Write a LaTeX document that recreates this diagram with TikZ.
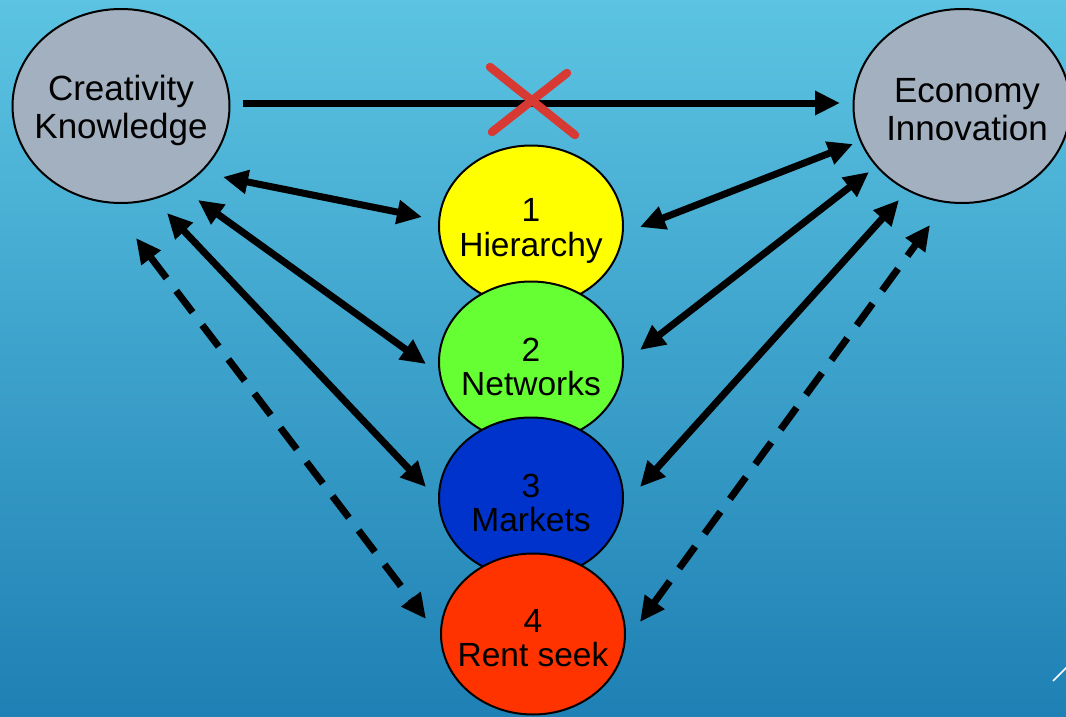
\documentclass[tikz,border=0pt]{standalone}
\usepackage{fontspec}
\setmainfont{Liberation Sans}
\usetikzlibrary{shapes.geometric,arrows.meta}
\definecolor{bgtop}{RGB}{92,196,226}
\definecolor{bgbot}{RGB}{30,128,180}
\definecolor{ovalgrey}{RGB}{163,176,191}
\definecolor{hyellow}{RGB}{255,255,0}
\definecolor{ngreen}{RGB}{102,255,51}
\definecolor{mblue}{RGB}{0,51,204}
\definecolor{rred}{RGB}{255,51,0}
\definecolor{xred}{RGB}{215,58,51}
\begin{document}
\begin{tikzpicture}[x=1pt,y=-1pt,
  bigoval/.style={ellipse,draw=black,line width=2pt,fill=ovalgrey,minimum width=217pt,minimum height=194pt,inner sep=0pt},
  bigtext/.style={align=center,inner sep=0pt,font=\fontsize{35}{38}\selectfont},
  mode/.style={ellipse,draw=black,line width=2pt,minimum width=184pt,minimum height=161pt,inner sep=0pt},
  modetext/.style={align=center,inner sep=0pt,font=\fontsize{33.5}{34.5}\selectfont},
  link/.style={line width=7pt,{Triangle[length=25pt,width=23pt]}-{Triangle[length=25pt,width=23pt]}},
  weaklink/.style={link,dash pattern=on 27pt off 16pt},
  cross/.style={xred,line width=8.5pt,line cap=round}]
\useasboundingbox (0,0) rectangle (1066,717);
\clip (0,0) rectangle (1066,717);
\shade[top color=bgtop,bottom color=bgbot] (0,0) rectangle (1066,717);

\node[bigoval,label={[bigtext,yshift=-4pt]center:Creativity\\Knowledge}] (ck) at (121,106) {};
\node[bigoval,label={[bigtext,yshift=-4pt,xshift=5pt]center:Economy\\Innovation}] (ei) at (962,106) {};

\node[mode,fill=hyellow,label={[modetext,yshift=-5pt]center:1\\Hierarchy}] (h) at (531,226) {};
\node[mode,fill=ngreen,label={[modetext,yshift=-5pt]center:2\\Networks}] (n) at (531,362) {};
\node[mode,fill=mblue,label={[modetext,yshift=-5pt]center:3\\Markets}] (m) at (531,498) {};
\node[mode,fill=rred,label={[modetext,yshift=-4pt]center:4\\Rent seek}] (r) at (533,634) {};

% arrow end points
\coordinate (top1) at (243,103);
\coordinate (top2) at (840,103);
\coordinate (l1a) at (223,177); \coordinate (l1b) at (422,217);
\coordinate (l2a) at (198,200); \coordinate (l2b) at (426,364);
\coordinate (l3a) at (167,213); \coordinate (l3b) at (426,487);
\coordinate (l4a) at (136,238); \coordinate (l4b) at (426,619);
\coordinate (r1a) at (640,227); \coordinate (r1b) at (853,144);
\coordinate (r2a) at (640,350); \coordinate (r2b) at (869,172);
\coordinate (r3a) at (640,487); \coordinate (r3b) at (899,200);
\coordinate (r4a) at (640,622); \coordinate (r4b) at (930,225);

\draw[line width=7pt,-{Triangle[length=25pt,width=23pt]}] (top1) -- (top2);

\draw[link] (l1a) -- (l1b);
\draw[link] (l2a) -- (l2b);
\draw[link] (l3a) -- (l3b);
\draw[weaklink] (l4a) -- (l4b);
\draw[link] (r1a) -- (r1b);
\draw[link] (r2a) -- (r2b);
\draw[link] (r3a) -- (r3b);
\draw[weaklink] (r4a) -- (r4b);

% red cross
\coordinate (xa1) at (490,67); \coordinate (xa2) at (575,135);
\coordinate (xb1) at (567,73); \coordinate (xb2) at (492,132);
\draw[cross] (xa1) -- (xa2);
\draw[cross] (xb1) -- (xb2);

% small white stroke in corner
\coordinate (w1) at (1053,681); \coordinate (w2) at (1068,666);
\draw[white,line width=1.5pt] (w1) -- (w2);
\end{tikzpicture}
\end{document}
